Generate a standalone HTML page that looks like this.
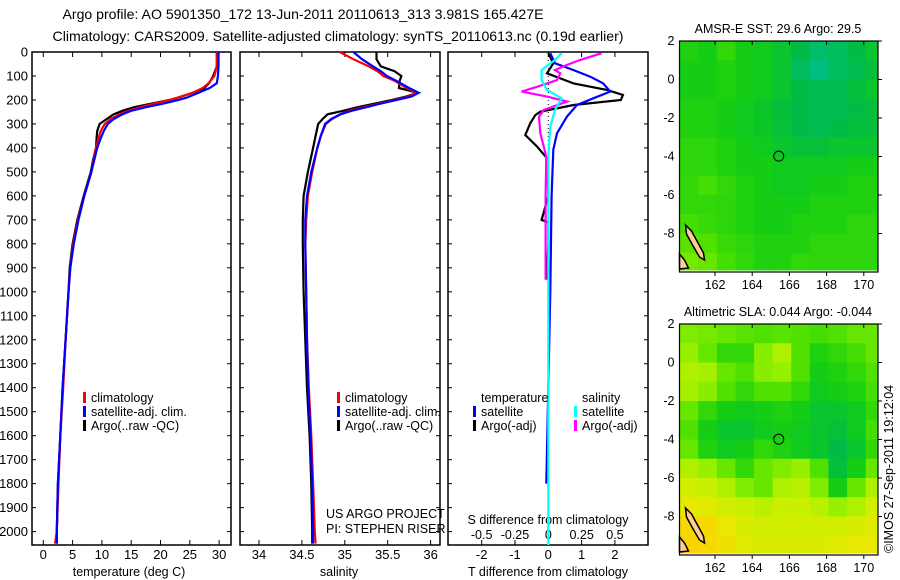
<!DOCTYPE html>
<html><head><meta charset="utf-8"><style>
html,body{margin:0;padding:0;background:#fff;}
svg{display:block;font-family:"Liberation Sans",sans-serif;}
text{fill:#000;}
</style></head><body>
<svg id="fig" width="900" height="580" viewBox="0 0 900 580" xmlns="http://www.w3.org/2000/svg">
<text x="303" y="19" font-size="14" text-anchor="middle" textLength="481" lengthAdjust="spacingAndGlyphs">Argo profile: AO 5901350_172 13-Jun-2011 20110613_313 3.981S 165.427E</text>
<text x="338" y="41" font-size="14" text-anchor="middle" textLength="571" lengthAdjust="spacingAndGlyphs">Climatology: CARS2009. Satellite-adjusted climatology: synTS_20110613.nc (0.19d earlier)</text>
<g id="p1"></g>
<g id="p2"></g>
<g id="p3"></g>
<g id="m1"></g>
<g id="m2"></g>
<text x="0" y="0" font-size="12.5" transform="translate(893,553) rotate(-90)">©IMOS 27-Sep-2011 19:12:04</text>
</svg>
<script>
// ---------- data ----------
const depthTicks = [0,100,200,300,400,500,600,700,800,900,1000,1100,1200,1300,1400,1500,1600,1700,1800,1900,2000];
const tempTicks = [0,5,10,15,20,25,30];
const salTicks = [34,34.5,35,35.5,36];
const tdiffTicks = [-2,-1,0,1,2];
const sdiffTicks = [-0.5,-0.25,0,0.25,0.5];
const sdiffTickLabels = ["-0.5","-0.25","0","0.25","0.5"];

const tDepth = [0,60,100,130,150,170,190,200,215,230,245,260,280,300,330,360,400,450,500,600,700,800,900,1000,1200,1400,1600,1800,2000,2050];
const tClim = [29.7,29.6,29.2,28.2,27.2,25.5,23,21.5,19,16.5,14.5,13,11.5,10.5,9.8,9.4,9.0,8.6,8.2,7.0,5.9,5.1,4.6,4.3,3.8,3.4,2.9,2.6,2.3,2.0];
const tSat = [29.9,29.9,29.8,29.6,28.4,26.5,24.5,23,20.5,17.5,15,13.5,12,11,10.3,9.8,9.2,8.7,8.2,7.0,6.0,5.2,4.6,4.3,3.8,3.3,2.9,2.5,2.3,2.3];
const tArgo = [29.6,29.6,29.0,28.3,27.5,25.5,23.0,21.5,18.5,15.5,13.5,12.0,10.8,9.6,9.2,9.1,9.0,8.5,8.1,6.9,5.8,5.0,4.5,4.3,3.8,3.3,2.9,2.5,2.3,2.3];

const sDepth = [0,30,60,80,100,120,150,170,185,200,215,230,245,260,280,300,350,400,500,600,700,800,1000,1200,1400,1600,1800,2000,2050];
const sClim = [34.94,35.10,35.28,35.38,35.45,35.58,35.72,35.83,35.75,35.58,35.4,35.22,35.05,34.95,34.85,34.78,34.72,34.68,34.62,34.57,34.55,34.54,34.55,34.56,34.58,34.61,34.63,34.65,34.66];
const sSat = [35.10,35.20,35.33,35.42,35.49,35.6,35.75,35.86,35.78,35.6,35.42,35.25,35.08,34.95,34.84,34.77,34.72,34.68,34.61,34.56,34.54,34.54,34.55,34.56,34.575,34.60,34.62,34.63,34.63];
const sArgo = [35.37,35.37,35.42,35.58,35.66,35.64,35.63,35.85,35.72,35.55,35.35,35.15,34.98,34.80,34.74,34.69,34.66,34.63,34.57,34.52,34.51,34.51,34.52,34.54,34.56,34.59,34.61,34.62,34.62];

const dTSatDepth = [5,47,75,103,131,165,193,221,270,339,408,600,1000,1400,1800];
const dTSat = [0.06,0.2,0.75,1.26,1.65,1.86,1.35,0.86,0.56,0.26,0.15,0.1,0.06,0.0,-0.06];
const dTArgoDepth = [5,47,89,110,131,158,179,200,221,249,263,297,346,394,443,600,700,710,800,940,950];
const dTArgo = [0,0.15,-0.04,0.36,0.76,1.76,2.24,2.18,0.76,-0.24,-0.39,-0.54,-0.69,-0.34,-0.04,0,-0.2,0,0,-0.05,0];
const dSArgoDepth = [5,33,54,75,89,117,145,165,186,207,242,270,339,436,600,950];
const dSArgo = [0.40,0.24,0.14,0.05,0.09,0.065,-0.085,-0.2,-0.01,0.14,-0.035,-0.07,-0.06,-0.015,-0.02,-0.02];
const dSSatDepth = [5,33,75,117,158,193,242,311,436,1000,2056];
const dSSat = [0.1,0.05,-0.05,-0.05,-0.01,0.1,0.05,0.015,0,0,0];

const mapLonTicks = [162,164,166,168,170];
const mapLatTicks = [2,0,-2,-4,-6,-8];
const sstGrid = [
[.42,.40,.45,.40,.38,.35,.30,.22,.25,.30,.35],
[.40,.40,.42,.40,.38,.35,.25,.18,.25,.28,.32],
[.40,.40,.42,.40,.38,.35,.30,.28,.28,.32,.35],
[.42,.42,.40,.38,.36,.32,.30,.28,.28,.30,.32],
[.42,.42,.40,.38,.36,.33,.30,.28,.30,.32,.32],
[.44,.44,.42,.40,.38,.35,.33,.33,.35,.35,.35],
[.44,.44,.42,.40,.40,.38,.38,.38,.38,.40,.40],
[.45,.48,.45,.42,.40,.38,.38,.40,.40,.42,.42],
[.45,.45,.44,.42,.40,.40,.40,.42,.42,.42,.42],
[.48,.46,.44,.42,.40,.40,.42,.42,.42,.44,.44],
[.52,.50,.46,.44,.42,.42,.42,.44,.44,.44,.44],
[.58,.55,.48,.45,.42,.42,.45,.44,.44,.44,.44]];
const slaGrid = [
[.60,.58,.55,.52,.50,.52,.50,.48,.50,.55,.55],
[.65,.55,.45,.45,.62,.70,.50,.42,.45,.48,.55],
[.70,.68,.55,.50,.62,.65,.50,.40,.42,.45,.50],
[.68,.62,.50,.45,.50,.50,.45,.38,.40,.42,.48],
[.55,.45,.40,.38,.40,.42,.40,.35,.35,.38,.45],
[.50,.40,.35,.35,.38,.40,.38,.35,.33,.38,.48],
[.55,.42,.38,.40,.45,.42,.38,.35,.30,.35,.45],
[.70,.65,.55,.45,.55,.60,.65,.50,.32,.40,.55],
[.78,.75,.70,.60,.55,.70,.72,.60,.40,.55,.70],
[.85,.82,.78,.75,.72,.75,.75,.72,.65,.70,.78],
[.92,.92,.85,.80,.78,.78,.78,.78,.78,.80,.82],
[.95,.92,.88,.82,.80,.80,.80,.80,.82,.85,.85]];
const argoLon = 165.427, argoLat = -3.981;

// ---------- helpers ----------
const NS = "http://www.w3.org/2000/svg";
function mk(parent, tag, attrs, txt){
  const e = document.createElementNS(NS, tag);
  for (const k in attrs) e.setAttribute(k, attrs[k]);
  if (txt !== undefined) e.textContent = txt;
  parent.appendChild(e);
  return e;
}
const TOP = 52, BOT = 545;
const yD = d => TOP + d * 0.2398;
const xT = t => 43.3 + t * 5.86;
const xS = s => 259 + (s - 34) * 85.8;
const xDT = v => 548.3 + v * 33.3;
const xDS = v => 548.3 + v * 133.3;

function frame(g, x0, x1, name){
  const r = mk(g, 'rect', {x:x0, y:TOP, width:x1-x0, height:BOT-TOP, fill:'none', stroke:'#000', 'stroke-width':1.5});
  
  
  depthTicks.forEach(d => {
    const y = yD(d);
    const a = mk(g, 'line', {x1:x0, x2:x0+4, y1:y, y2:y, stroke:'#000'});
    
    
    const b = mk(g, 'line', {x1:x1-4, x2:x1, y1:y, y2:y, stroke:'#000'});
    
    
  });
}
function xticks(g, ticks, fx, labels, ly){
  ticks.forEach((t, i) => {
    const x = fx(t);
    const a = mk(g, 'line', {x1:x, x2:x, y1:TOP, y2:TOP+5, stroke:'#000'});
    
    
    const b = mk(g, 'line', {x1:x, x2:x, y1:BOT-5, y2:BOT, stroke:'#000'});
    
    
    if (labels) {
      const tx = mk(g, 'text', {x:x, y:ly, 'font-size':13, 'text-anchor':'middle'}, labels[i]);
      
      
    }
  });
}
function series(g, depths, vals, fx, color, name){
  const pts = depths.map((d, i) => fx(vals[i]).toFixed(1) + ',' + yD(d).toFixed(1)).join(' ');
  const p = mk(g, 'polyline', {points:pts, fill:'none', stroke:color, 'stroke-width':2.2, 'stroke-linejoin':'miter'});
  
  
}
function legend(g, x, y, color, label, name){
  const m = mk(g, 'rect', {x:x, y:y-10, width:3, height:11, fill:color});
  
  
  const t = mk(g, 'text', {x:x+8, y:y, 'font-size':12.5}, label);
  
  
}
function label(g, x, y, txt, name, anchor){
  const t = mk(g, 'text', {x:x, y:y, 'font-size':12.5, 'text-anchor':anchor||'start'}, txt);
  
  
}

// ---------- panel 1 ----------
const p1 = document.getElementById('p1');
frame(p1, 32, 231, 'temperature-plot-frame');
depthTicks.forEach(d => {
  const t = mk(p1, 'text', {x:28, y:yD(d)+4.5, 'font-size':13, 'text-anchor':'end'}, String(d));
  
  
});
xticks(p1, tempTicks, xT, tempTicks.map(String), 559);
label(p1, 129, 576, 'temperature (deg C)', 'temperature-axis-title', 'middle');
series(p1, tDepth, tArgo, xT, '#000', 'temperature-argo-line');
series(p1, tDepth, tClim, xT, '#f00', 'temperature-climatology-line');
series(p1, tDepth, tSat, xT, '#00f', 'temperature-satellite-line');
legend(p1, 83, 402, '#f00', 'climatology', 'legend-climatology');
legend(p1, 83, 416, '#00f', 'satellite-adj. clim.', 'legend-satellite-adj');
legend(p1, 83, 430, '#000', 'Argo(..raw -QC)', 'legend-argo-raw');

// ---------- panel 2 ----------
const p2 = document.getElementById('p2');
frame(p2, 240, 440, 'salinity-plot-frame');
xticks(p2, salTicks, xS, salTicks.map(String), 559);
label(p2, 339, 576, 'salinity', 'salinity-axis-title', 'middle');
series(p2, sDepth, sArgo, xS, '#000', 'salinity-argo-line');
series(p2, sDepth, sClim, xS, '#f00', 'salinity-climatology-line');
series(p2, sDepth, sSat, xS, '#00f', 'salinity-satellite-line');
legend(p2, 337, 402, '#f00', 'climatology', 'legend-climatology');
legend(p2, 337, 416, '#00f', 'satellite-adj. clim.', 'legend-satellite-adj');
legend(p2, 337, 430, '#000', 'Argo(..raw -QC)', 'legend-argo-raw');
label(p2, 326, 518, 'US ARGO PROJECT', 'project-label');
label(p2, 326, 533, 'PI: STEPHEN RISER', 'pi-label');

// ---------- panel 3 ----------
const p3 = document.getElementById('p3');
frame(p3, 448, 648, 'difference-plot-frame');
xticks(p3, tdiffTicks, xDT, tdiffTicks.map(String), 559);
sdiffTicks.forEach((v, i) => label(p3, xDS(v), 539, sdiffTickLabels[i], 's-diff-tick-label', 'middle'));
label(p3, 548, 524, 'S difference from climatology', 's-diff-axis-title', 'middle');
label(p3, 548, 576, 'T difference from climatology', 't-diff-axis-title', 'middle');
const zl = mk(p3, 'line', {x1:548.3, x2:548.3, y1:TOP, y2:yD(420), stroke:'#000', 'stroke-width':1, 'stroke-dasharray':'1,3'});


series(p3, dTArgoDepth, dTArgo, xDT, '#000', 'tdiff-argo-line');
series(p3, dTSatDepth, dTSat, xDT, '#00f', 'tdiff-satellite-line');
series(p3, dSArgoDepth, dSArgo, xDS, '#f0f', 'sdiff-argo-line');
series(p3, dSSatDepth, dSSat, xDS, '#0ff', 'sdiff-satellite-line');
label(p3, 481, 402, 'temperature', 'legend-temperature-heading');
legend(p3, 473, 416, '#00f', 'satellite', 'legend-t-satellite');
legend(p3, 473, 430, '#000', 'Argo(-adj)', 'legend-t-argo');
label(p3, 582, 402, 'salinity', 'legend-salinity-heading');
legend(p3, 574, 416, '#0ff', 'satellite', 'legend-s-satellite');
legend(p3, 574, 430, '#f0f', 'Argo(-adj)', 'legend-s-argo');

// ---------- maps ----------
const cstops = [[0.15,[0,190,140]],[0.3,[0,188,70]],[0.4,[20,205,20]],[0.5,[80,225,0]],[0.65,[150,240,0]],[0.75,[200,240,0]],[0.85,[232,232,0]],[0.95,[250,210,0]],[1,[255,195,0]]];
function cmap(v){
  if (v <= cstops[0][0]) return 'rgb(' + cstops[0][1] + ')';
  for (let i = 1; i < cstops.length; i++){
    if (v <= cstops[i][0]) {
      const a = cstops[i-1], b = cstops[i], f = (v - a[0]) / (b[0] - a[0]);
      return 'rgb(' + a[1].map((c, k) => Math.round(c + (b[1][k] - c) * f)).join(',') + ')';
    }
  }
  return 'rgb(' + cstops[cstops.length-1][1] + ')';
}
function drawMap(g, top, title, grid, name){
  const L = 679.5, R = 878, B = top + 231;
  const xL = lon => 715 + (lon - 162) * 18.6;
  const yL = lat => top + (2 - lat) * 19.25;
  const t = mk(g, 'text', {x:778, y:top-8, 'font-size':12.5, 'text-anchor':'middle'}, title);
  
  
  grid.forEach((row, r) => row.forEach((v, c) => {
    const x0 = Math.max(L, xL(160.1 + c)), x1 = Math.min(R, xL(161.1 + c));
    const y0 = yL(2 - r), y1 = Math.min(B - 2, yL(1 - r));
    const cell = mk(g, 'rect', {x:x0, y:y0, width:x1-x0+0.5, height:y1-y0+0.5, fill:cmap(v)});
    
    
  }));
  const land1 = mk(g, 'path', {d:`M${L+6},${B-47} L${L+12},${B-41} L${L+18},${B-30} L${L+24},${B-19} L${L+25},${B-12} L${L+20},${B-15} L${L+13},${B-27} L${L+7},${B-38} Z`, fill:'#fc9', stroke:'#000', 'stroke-width':1.5});
  
  
  const land2 = mk(g, 'path', {d:`M${L},${B-18} L${L+5},${B-12} L${L+9},${B-4} L${L},${B-3} Z`, fill:'#fc9', stroke:'#000', 'stroke-width':1.5});
  
  
  const c = mk(g, 'circle', {cx:xL(argoLon), cy:yL(argoLat), r:5, fill:'none', stroke:'#000', 'stroke-width':1});
  
  
  const f = mk(g, 'rect', {x:L, y:top, width:R-L, height:B-top, fill:'none', stroke:'#000', 'stroke-width':1.2});
  
  
  mapLonTicks.forEach(lon => {
    const x = xL(lon);
    const a = mk(g, 'line', {x1:x, x2:x, y1:top, y2:top+4, stroke:'#000'});
    
    
    const b = mk(g, 'line', {x1:x, x2:x, y1:B, y2:B+4, stroke:'#000'});
    
    
    label(g, x, B+17, String(lon), 'lon-tick-label', 'middle');
  });
  mapLatTicks.forEach(lat => {
    const y = yL(lat);
    const a = mk(g, 'line', {x1:R, x2:R+4, y1:y, y2:y, stroke:'#000'});
    
    
    label(g, L-5, y+4, String(lat), 'lat-tick-label', 'end');
  });
}
drawMap(document.getElementById('m1'), 41, 'AMSR-E SST: 29.6 Argo: 29.5', sstGrid, 'sst-map');
drawMap(document.getElementById('m2'), 324, 'Altimetric SLA: 0.044 Argo: -0.044', slaGrid, 'sla-map');
</script>
</body></html>
